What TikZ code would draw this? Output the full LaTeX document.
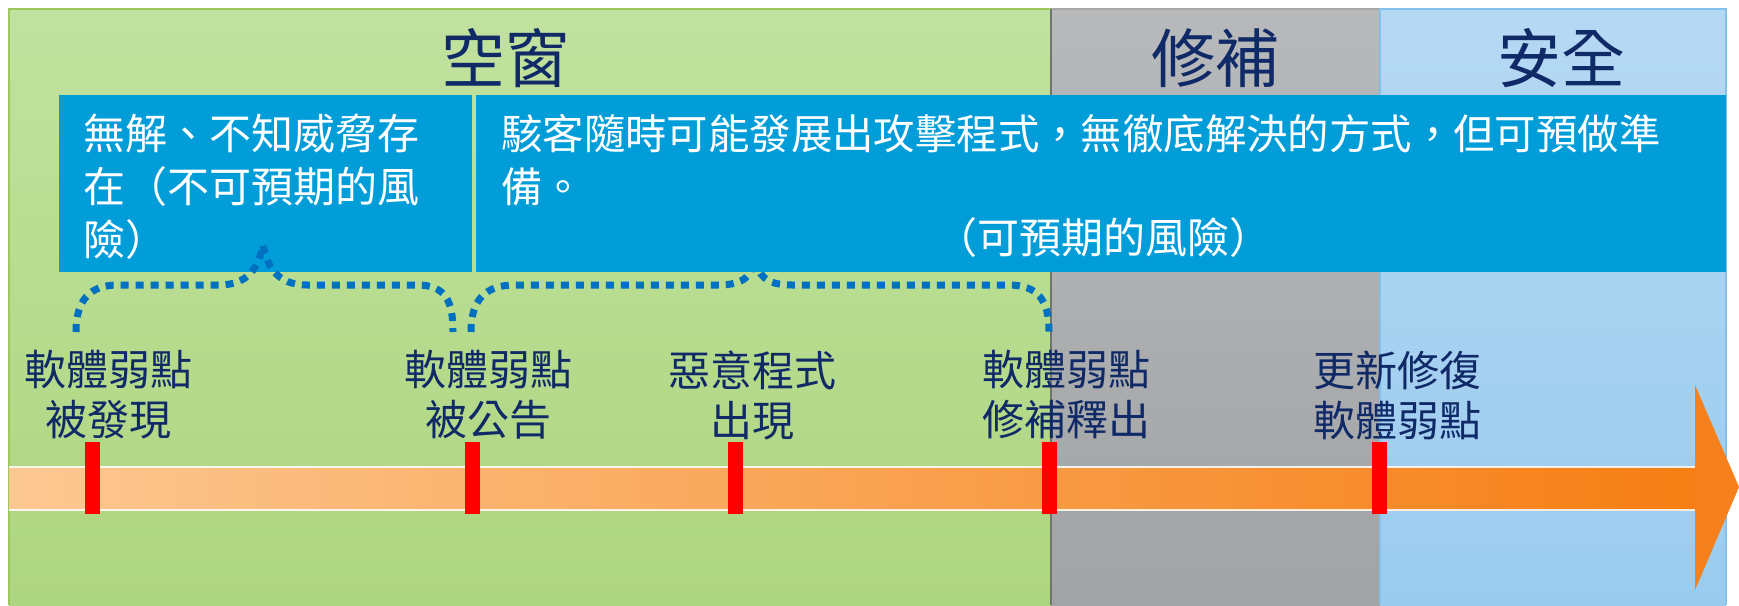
\documentclass[tikz,border=0pt]{standalone}
\usepackage{fontspec}
\newfontfamily\cjk{Noto Sans CJK TC}
\definecolor{greenT}{HTML}{C1E29F}
\definecolor{greenB}{HTML}{AED57F}
\definecolor{greenE}{HTML}{9CC85C}
\definecolor{grayT}{HTML}{B8B9BB}
\definecolor{grayB}{HTML}{A2A3A5}
\definecolor{blueT}{HTML}{B6D9F3}
\definecolor{blueB}{HTML}{9ACBEE}
\definecolor{blueE}{HTML}{84C0EC}
\definecolor{boxblue}{HTML}{009DD9}
\definecolor{navy}{HTML}{102A68}
\definecolor{dotblue}{HTML}{0070C0}
\definecolor{barL}{HTML}{FCC892}
\definecolor{barR}{HTML}{F67E14}
\definecolor{arrowc}{HTML}{F6811C}
\tikzset{
  title/.style={font=\cjk\fontsize{64}{70}\selectfont, text=navy, inner sep=0},
  evlabel/.style={font=\cjk\fontsize{42}{50}\selectfont, text=navy, align=center, inner sep=0},
  boxtext/.style={font=\cjk\fontsize{42}{53}\selectfont, text=white, align=left, inner sep=0},
  tick/.style={fill=red, minimum width=15pt, minimum height=72pt, inner sep=0, draw=none},
  dotbrace/.style={draw=dotblue, line width=7pt, dash pattern=on 8pt off 7pt}
}
\begin{document}
\begin{tikzpicture}[x=1pt,y=-1pt]
\useasboundingbox (0,0) rectangle (1739,605);
% panels
\shade[top color=greenT, bottom color=greenB] (9,9) rectangle (1051,605);
\draw[greenE, line width=1.5pt] (9,605) -- (9,9) -- (1051,9);
\shade[top color=grayT, bottom color=grayB] (1051,9) rectangle (1380,605);
\draw[gray!70, line width=1.2pt] (1051,9) -- (1380,9);
\shade[top color=blueT, bottom color=blueB] (1380,9) rectangle (1726,605);
\draw[blueE, line width=1.2pt] (1380,605) -- (1380,9) -- (1726,9) -- (1726,605);
\draw[black!55, line width=2.5pt] (1051,9) -- (1051,605);
% titles
\node[title] (t1) at (505,58) {空窗};
\node[title] (t2) at (1215,58) {修補};
\node[title] (t3) at (1561,58) {安全};
% brace 2 (under box)
\coordinate (b2l) at (471,332);
\coordinate (b2r) at (1049,332);
\draw[dotbrace] (b2l) .. controls (471,300) and (485,285) .. (515,285) -- (718,285)
  .. controls (745,285) and (752,275) .. (755,258)
  .. controls (758,275) and (765,285) .. (792,285) -- (1008,285)
  .. controls (1038,285) and (1049,300) .. (b2r);
% boxes
\node[fill=boxblue, minimum width=413pt, minimum height=177pt, inner sep=0, anchor=north west] (box1) at (59,95) {};
\node[fill=boxblue, minimum width=1250pt, minimum height=177pt, inner sep=0, anchor=north west] (box2) at (476,95) {};
\node[boxtext, anchor=north west] (x1) at (83,114) {無解、不知威脅存\\在（不可預期的風\\險）};
\node[boxtext, font=\cjk\fontsize{41.4}{53}\selectfont, anchor=north west] (x2) at (501,114) {駭客隨時可能發展出攻擊程式，無徹底解決的方式，但可預做準\\備。};
\node[boxtext] (x3) at (1103,238) {（可預期的風險）};
% brace 1 (over box)
\coordinate (b1l) at (76,332);
\coordinate (b1r) at (453,332);
\draw[dotbrace] (b1l) .. controls (76,300) and (90,285) .. (118,285) -- (219,285)
  .. controls (250,285) and (259,265) .. (263,245)
  .. controls (267,265) and (276,285) .. (307,285) -- (417,285)
  .. controls (445,285) and (453,300) .. (b1r);
% timeline bar
\shade[left color=barL, right color=barR] (9,467) rectangle (1697,510);
\draw[white, opacity=0.85, line width=2.5pt] (9,467) -- (1697,467);
\draw[white, opacity=0.85, line width=2.5pt] (9,510) -- (1697,510);
\fill[arrowc] (1695,385) -- (1739,487) -- (1695,590) -- cycle;
% ticks
\node[tick] (k1) at (92,478) {};
\node[tick] (k2) at (472,478) {};
\node[tick] (k3) at (735,478) {};
\node[tick] (k4) at (1049,478) {};
\node[tick] (k5) at (1379,478) {};
% labels
\node[evlabel] (l1) at (108,395) {軟體弱點\\被發現};
\node[evlabel] (l2) at (488,395) {軟體弱點\\被公告};
\node[evlabel] (l3) at (752,395) {惡意程式\\出現};
\node[evlabel] (l4) at (1066,395) {軟體弱點\\修補釋出};
\node[evlabel] (l5) at (1397,395) {更新修復\\軟體弱點};
\end{tikzpicture}
\end{document}
